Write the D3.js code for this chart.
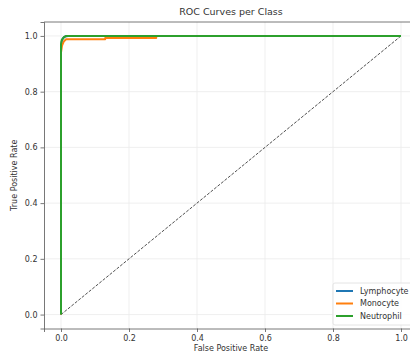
<!DOCTYPE html>
<html>
<head>
<meta charset="utf-8">
<script src="https://cdn.jsdelivr.net/npm/d3@7"></script>
<style>
  body { margin: 0; background: #fff; }
  svg { font-family: "DejaVu Sans", sans-serif; }
</style>
</head>
<body>
<div id="chart"></div>
<script>
const classNames = ["Lymphocyte", "Monocyte", "Neutrophil"];
const classColors = ["#1f77b4", "#ff7f0e", "#2ca02c"];

// ROC points
const lymphFpr = [0, 0, 0.002, 0.005, 0.01, 0.02, 1];
const lymphTpr = [0, 0.96, 0.98, 0.99, 0.997, 1, 1];
const monoFpr = [0, 0, 0.003, 0.008, 0.015, 0.13, 0.13, 0.28, 0.28, 1];
const monoTpr = [0, 0.94, 0.965, 0.98, 0.988, 0.988, 0.993, 0.993, 1, 1];
const neutFpr = [0, 0, 0.002, 0.008, 0.015, 1];
const neutTpr = [0, 0.97, 0.985, 0.995, 1, 1];

const tickValues = [0, 0.2, 0.4, 0.6, 0.8, 1.0];

const curves = [
  { name: classNames[0], color: classColors[0], fpr: lymphFpr, tpr: lymphTpr },
  { name: classNames[1], color: classColors[1], fpr: monoFpr, tpr: monoTpr },
  { name: classNames[2], color: classColors[2], fpr: neutFpr, tpr: neutTpr },
];

const width = 410, height = 355;
const plot = { left: 44, top: 22, right: 418, bottom: 328.5 };

const svg = d3.select("#chart").append("svg")
  .attr("width", width)
  .attr("height", height);

const x = d3.scaleLinear().domain([-0.05, 1.05]).range([plot.left, plot.right]);
const y = d3.scaleLinear().domain([-0.05, 1.05]).range([plot.bottom, plot.top]);

svg.append("defs").append("clipPath").attr("id", "plot-clip")
  .append("rect")
  .attr("x", plot.left).attr("y", plot.top)
  .attr("width", plot.right - plot.left).attr("height", plot.bottom - plot.top);

// grid
const grid = svg.append("g").attr("stroke", "#ebebeb").attr("stroke-width", 0.8);
grid.selectAll(".gx").data(tickValues).join("line")
  .attr("x1", (d) => x(d)).attr("x2", (d) => x(d))
  .attr("y1", plot.top).attr("y2", plot.bottom);
grid.selectAll(".gy").data(tickValues).join("line")
  .attr("y1", (d) => y(d)).attr("y2", (d) => y(d))
  .attr("x1", plot.left).attr("x2", plot.right);

const g = svg.append("g").attr("clip-path", "url(#plot-clip)");

// chance line
g.append("path")
  .attr("d", d3.line()([[x(0), y(0)], [x(1), y(1)]]))
  .attr("stroke", "#222")
  .attr("stroke-width", 0.8)
  .attr("stroke-dasharray", "3,1.5")
  .attr("fill", "none");

const line = d3.line().x((d) => x(d[0])).y((d) => y(d[1]));
g.selectAll(".roc").data(curves).join("path")
  .attr("class", "roc")
  .attr("d", (c) => line(c.fpr.map((f, i) => [f, c.tpr[i]])))
  .attr("stroke", (c) => c.color)
  .attr("stroke-width", 2)
  .attr("stroke-linejoin", "round")
  .attr("fill", "none");

// axes
const xAxis = svg.append("g")
  .attr("transform", `translate(0,${plot.bottom})`)
  .call(d3.axisBottom(x).tickValues(tickValues).tickFormat(d3.format(".1f")).tickSize(3.5).tickPadding(3));
const yAxis = svg.append("g")
  .attr("transform", `translate(${plot.left},0)`)
  .call(d3.axisLeft(y).tickValues(tickValues).tickFormat(d3.format(".1f")).tickSize(3.5).tickPadding(3));
[xAxis, yAxis].forEach((a) => {
  a.select(".domain").attr("stroke", "#555").attr("stroke-width", 0.8);
  a.selectAll(".tick line").attr("stroke", "#555").attr("stroke-width", 0.8);
  a.selectAll(".tick text").attr("fill", "#333").attr("font-size", 8).attr("font-family", "DejaVu Sans");
});

// top spine
svg.append("line")
  .attr("x1", plot.left).attr("x2", plot.right)
  .attr("y1", plot.top).attr("y2", plot.top)
  .attr("stroke", "#555").attr("stroke-width", 0.8);

// title and labels
svg.append("text")
  .attr("x", (plot.left + plot.right) / 2).attr("y", 15)
  .attr("text-anchor", "middle")
  .attr("font-size", 9.5).attr("fill", "#333")
  .text("ROC Curves per Class");
svg.append("text")
  .attr("x", (plot.left + plot.right) / 2).attr("y", 351)
  .attr("text-anchor", "middle")
  .attr("font-size", 8).attr("fill", "#333")
  .text("False Positive Rate");
svg.append("text")
  .attr("transform", `translate(17,${(plot.top + plot.bottom) / 2}) rotate(-90)`)
  .attr("text-anchor", "middle")
  .attr("font-size", 8).attr("fill", "#333")
  .text("True Positive Rate");

// legend
const legend = svg.append("g").attr("transform", "translate(333,283)");
legend.append("rect")
  .attr("width", 84).attr("height", 42).attr("rx", 2)
  .attr("fill", "#fff").attr("fill-opacity", 0.85)
  .attr("stroke", "#ddd").attr("stroke-width", 0.8);
const item = legend.selectAll(".item").data(curves).join("g")
  .attr("transform", (d, i) => `translate(0,${8 + i * 12.5})`);
item.append("line")
  .attr("x1", 3).attr("x2", 20)
  .attr("stroke", (d) => d.color).attr("stroke-width", 2);
item.append("text")
  .attr("x", 27).attr("dy", "0.35em")
  .attr("font-size", 8).attr("fill", "#333")
  .text((d) => d.name);
</script>
</body>
</html>
